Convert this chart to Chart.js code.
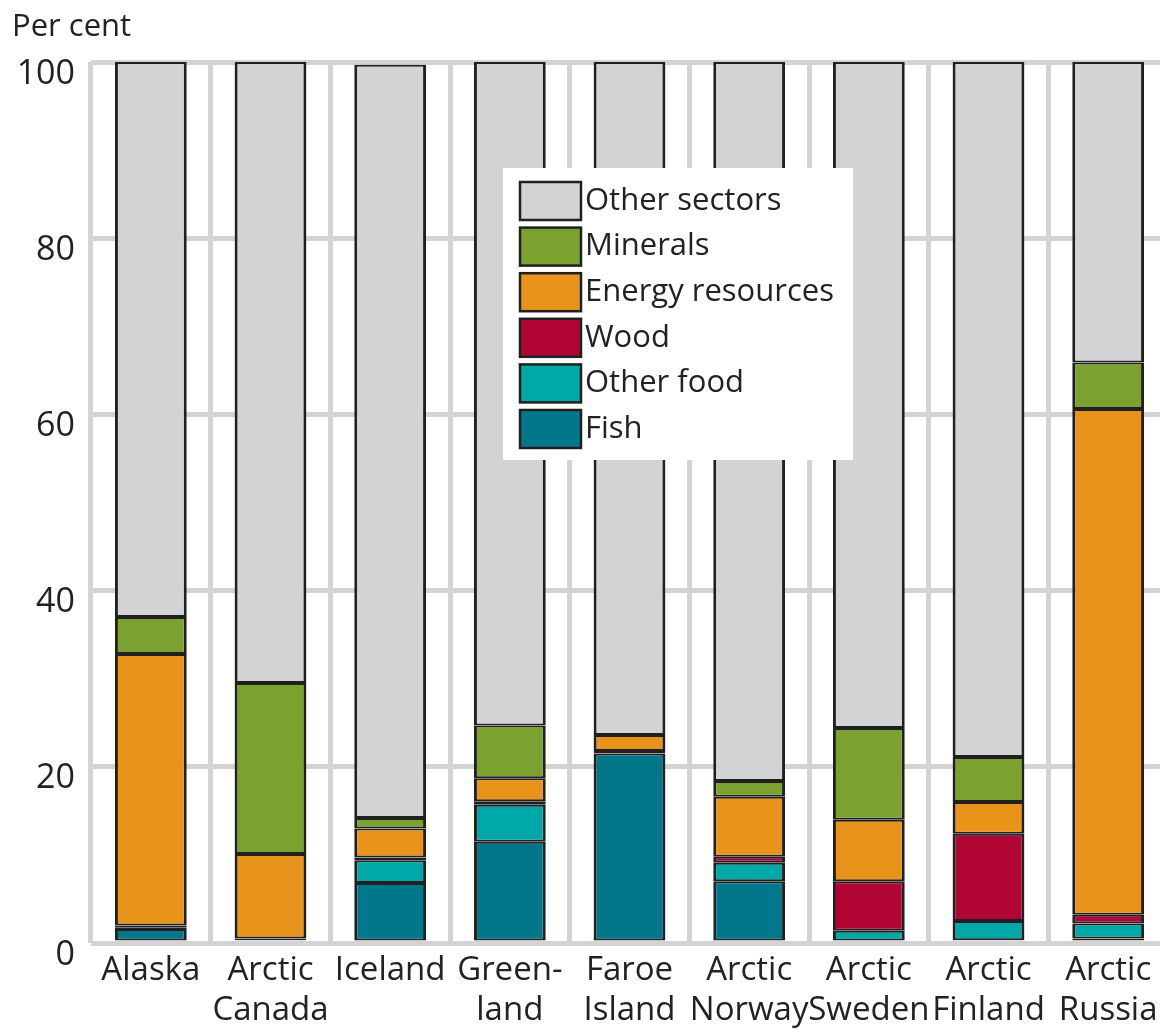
<!DOCTYPE html>
<html>
<head>
<meta charset="utf-8">
<script src="https://cdn.jsdelivr.net/npm/chart.js@4/dist/chart.umd.min.js"></script>
<style>
  html, body { margin: 0; padding: 0; background: #fff; overflow: hidden; }
  #wrap { width: 1170px; height: 1029px; }
</style>
</head>
<body>
<div id="wrap"><canvas id="c" width="1170" height="1029"></canvas></div>
<script>
// Regions (multi-line labels as arrays)
const categories = ['Alaska', ['Arctic', 'Canada'], 'Iceland', ['Green-', 'land'], ['Faroe', 'Island'],
  ['Arctic', 'Norway'], ['Arctic', 'Sweden'], ['Arctic', 'Finland'], ['Arctic', 'Russia']];

// Share of each sector, per cent (stacked bottom to top)
const fish         = [1.6, 0.3, 6.8, 11.5, 21.5, 7.0, 0.0, 0.3, 0.5];
const otherFood    = [0.2, 0.2, 2.6, 4.2, 0.3, 2.1, 1.4, 2.2, 1.7];
const wood         = [0.2, 0.0, 0.3, 0.4, 0.0, 0.7, 5.6, 9.9, 1.0];
const energy       = [30.8, 9.6, 3.3, 2.6, 1.8, 6.8, 7.0, 3.6, 57.4];
const minerals     = [4.2, 19.4, 1.2, 6.0, 0.0, 1.8, 10.4, 5.1, 5.3];
const otherSectors = [63.0, 70.5, 85.5, 75.3, 76.4, 81.6, 75.6, 78.9, 34.1];

const yTicks = [0, 20, 40, 60, 80, 100];
const yAxisTitle = 'Per cent';

const palette = {
  fish: '#00778b', otherFood: '#00a8a8', wood: '#b00535',
  energy: '#e8941a', minerals: '#7ba22f', other: '#d1d3d4'
};

Chart.defaults.font.family = "'Open Sans', 'Noto Sans', sans-serif";
Chart.defaults.color = '#222';

function ds(label, data, color) {
  return {
    label, data, backgroundColor: color,
    borderColor: '#202020',
    borderWidth: { top: 2, bottom: 2, left: 3, right: 3 },
    borderSkipped: false, inflateAmount: 0,
    barPercentage: 0.6, categoryPercentage: 1.0
  };
}

// Legend drawn inside the plot, top entry first
const boxLegend = {
  id: 'boxLegend',
  afterDraw(chart) {
    const { ctx, chartArea } = chart;
    const x0 = chartArea.left + 412, y0 = chartArea.top + 106;
    const w = 350, h = 292;
    ctx.save();
    ctx.fillStyle = '#fff';
    ctx.fillRect(x0, y0, w, h);
    const items = chart.data.datasets.slice().reverse();
    ctx.font = "31px 'Open Sans', 'Noto Sans', sans-serif";
    ctx.textBaseline = 'middle';
    items.forEach((d, i) => {
      const sy = y0 + 14 + i * 45.6;
      ctx.fillStyle = d.backgroundColor;
      ctx.fillRect(x0 + 17, sy, 61, 38);
      ctx.strokeStyle = '#202020';
      ctx.lineWidth = 2.5;
      ctx.strokeRect(x0 + 17, sy, 61, 38);
      ctx.fillStyle = '#222';
      ctx.fillText(d.label, x0 + 82, sy + 19);
    });
    ctx.restore();
  }
};

const axisTitle = {
  id: 'axisTitle',
  afterDraw(chart) {
    const { ctx } = chart;
    ctx.save();
    ctx.font = "31px 'Open Sans', 'Noto Sans', sans-serif";
    ctx.fillStyle = '#222';
    ctx.textBaseline = 'alphabetic';
    ctx.textAlign = 'left';
    ctx.fillText(yAxisTitle, 12, 36);
    ctx.restore();
  }
};

new Chart(document.getElementById('c'), {
  type: 'bar',
  data: {
    labels: categories,
    datasets: [
      ds('Fish', fish, palette.fish),
      ds('Other food', otherFood, palette.otherFood),
      ds('Wood', wood, palette.wood),
      ds('Energy resources', energy, palette.energy),
      ds('Minerals', minerals, palette.minerals),
      ds('Other sectors', otherSectors, palette.other)
    ]
  },
  options: {
    responsive: false,
    animation: false,
    layout: { padding: { top: 62, right: 2, left: 0, bottom: 0 } },
    plugins: { legend: { display: false }, tooltip: { enabled: false } },
    scales: {
      x: {
        stacked: true,
        grid: { color: '#d3d3d3', lineWidth: 5, drawTicks: false, offset: true },
        border: { display: false },
        ticks: { font: { size: 33 }, padding: 8, maxRotation: 0, autoSkip: false, color: '#222' },
        afterFit(s) { s.height = 86; }
      },
      y: {
        stacked: true,
        min: 0, max: 100,
        afterBuildTicks(s) { s.ticks = yTicks.map(v => ({ value: v })); },
        grid: { color: '#d3d3d3', lineWidth: 5, drawTicks: false },
        border: { display: false },
        ticks: { font: { size: 34 }, padding: 16, labelOffset: 12, color: '#222' },
        afterFit(s) { s.width = 91; }
      }
    }
  },
  plugins: [boxLegend, axisTitle]
});
</script>
</body>
</html>
